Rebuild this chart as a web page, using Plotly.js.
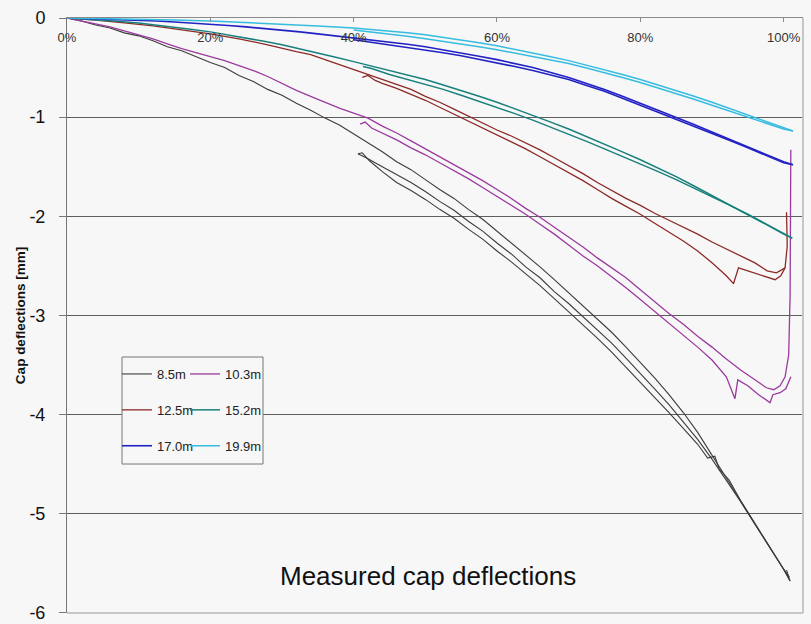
<!DOCTYPE html>
<html>
<head>
<meta charset="utf-8">
<script src="https://cdn.plot.ly/plotly-3.0.1.min.js"></script>
<style>html,body{margin:0;padding:0;background:#f7f7f7;}#chart{width:811px;height:624px;}</style>
</head>
<body>
<div id="chart"></div>
<script>
// ---- Data: x = load level [%], y = cap deflection [mm] ----
const seriesNames = ['8.5m', '10.3m', '12.5m', '15.2m', '17.0m', '19.9m'];
const xTickVals = [0, 20, 40, 60, 80, 100];
const xTickText = ['0%', '20%', '40%', '60%', '80%', '100%'];
const yTickVals = [0, -1, -2, -3, -4, -5, -6];
const yTickText = ['0', '-1', '-2', '-3', '-4', '-5', '-6'];

// 8.5m
const x85a = [0,2,4,6,8,10,12,14,16,18,20,22,24,26,28,30,32,34,36,38,40,42,44,46,48,50,52,54,56,58,60,62,64,66,68,70,72,74,76,78,80,82,84,86,88,90,92,94,96,98,100,100.9,100.4];
const y85a = [0,-0.03,-0.07,-0.10,-0.15,-0.18,-0.23,-0.29,-0.33,-0.39,-0.45,-0.50,-0.58,-0.64,-0.72,-0.78,-0.86,-0.93,-1.01,-1.08,-1.17,-1.26,-1.35,-1.45,-1.53,-1.63,-1.73,-1.82,-1.93,-2.03,-2.15,-2.27,-2.39,-2.51,-2.64,-2.77,-2.90,-3.04,-3.17,-3.32,-3.47,-3.63,-3.80,-3.98,-4.18,-4.41,-4.63,-4.86,-5.09,-5.33,-5.56,-5.68,-5.57];
const x85b = [40.6,42,44,46,48,50,52,54,56,58,60,62,64,66,68,70,72,74,76,78,80,82,84,86,88,90,92,94,96,98,100,100.8];
const y85b = [-1.37,-1.42,-1.50,-1.58,-1.66,-1.75,-1.85,-1.94,-2.05,-2.15,-2.27,-2.38,-2.51,-2.62,-2.76,-2.88,-3.01,-3.15,-3.28,-3.43,-3.58,-3.74,-3.90,-4.07,-4.25,-4.45,-4.66,-4.88,-5.11,-5.34,-5.56,-5.64];
const x85c = [40.6,41.2,42.2,44,46,48,50,52,54,56,58,60,62,64,66,68,70,72,74,76,78,80,82,84,86,88,89.4,90.4,91,92.4,94,96,98,100,100.9];
const y85c = [-1.37,-1.36,-1.44,-1.55,-1.66,-1.74,-1.83,-1.93,-2.02,-2.13,-2.23,-2.35,-2.46,-2.58,-2.70,-2.83,-2.96,-3.09,-3.23,-3.37,-3.52,-3.67,-3.82,-3.98,-4.14,-4.30,-4.44,-4.42,-4.55,-4.66,-4.87,-5.10,-5.33,-5.56,-5.68];

// 10.3m
const x103a = [0,2,4,6,8,10,12,14,16,18,20,22,24,26,28,30,32,34,36,38,40,42,44,46,48,50,52,54,56,58,60,62,64,66,68,70,72,74,76,78,80,82,84,86,88,90,92,94,96,97.6,98.6,99.5,100.2,100.7,100.9,101.0,101.0];
const y103a = [0,-0.03,-0.06,-0.09,-0.13,-0.17,-0.21,-0.26,-0.31,-0.35,-0.39,-0.43,-0.48,-0.53,-0.59,-0.66,-0.73,-0.79,-0.85,-0.91,-0.96,-1.01,-1.09,-1.16,-1.24,-1.32,-1.40,-1.48,-1.56,-1.64,-1.73,-1.82,-1.92,-2.01,-2.11,-2.21,-2.31,-2.42,-2.52,-2.62,-2.74,-2.86,-2.98,-3.09,-3.21,-3.32,-3.44,-3.55,-3.65,-3.73,-3.75,-3.71,-3.62,-3.40,-2.80,-2.00,-1.33];
const x103b = [40.9,41.6,42.5,44,46,48,50,52,54,56,58,60,62,64,66,68,70,72,74,76,78,80,82,84,86,88,90,92,93.2,93.6,95,96.5,98.1,98.5,99.5,100.3,101.0];
const y103b = [-1.07,-1.05,-1.11,-1.16,-1.23,-1.31,-1.38,-1.46,-1.54,-1.62,-1.71,-1.80,-1.89,-1.98,-2.08,-2.18,-2.29,-2.40,-2.50,-2.61,-2.72,-2.84,-2.96,-3.08,-3.20,-3.32,-3.45,-3.62,-3.84,-3.65,-3.71,-3.80,-3.88,-3.80,-3.78,-3.74,-3.62];

// 12.5m
const x125a = [0,4,8,12,16,20,24,28,32,34,36,38,40,42,44,46,48,50,52,54,56,58,60,62,64,66,68,70,72,74,76,78,80,82,84,86,88,90,92,94,96,97.7,99,100.2];
const y125a = [0,-0.02,-0.05,-0.08,-0.12,-0.16,-0.21,-0.27,-0.34,-0.37,-0.42,-0.47,-0.52,-0.57,-0.62,-0.67,-0.72,-0.79,-0.85,-0.92,-0.99,-1.06,-1.13,-1.19,-1.26,-1.33,-1.41,-1.49,-1.57,-1.66,-1.74,-1.82,-1.89,-1.97,-2.04,-2.11,-2.18,-2.26,-2.33,-2.40,-2.47,-2.55,-2.57,-2.52];
const x125b = [41.2,42,43,44,46,48,50,52,54,56,58,60,62,64,66,68,70,72,74,76,78,80,82,84,86,88,90,92,93,93.7,95,97,98.8,99.6,100.2,100.5,100.4];
const y125b = [-0.60,-0.58,-0.63,-0.66,-0.71,-0.77,-0.83,-0.90,-0.97,-1.04,-1.11,-1.18,-1.25,-1.32,-1.40,-1.48,-1.56,-1.64,-1.73,-1.82,-1.90,-1.98,-2.07,-2.16,-2.25,-2.35,-2.47,-2.60,-2.68,-2.52,-2.55,-2.60,-2.64,-2.60,-2.52,-2.30,-1.96];

// 15.2m
const x152a = [0,2.5,5,7.5,10,12.5,15,17.5,20,22.5,25,27.5,30,32.5,35,37.5,40,42.5,45,47.5,50,52.5,55,57.5,60,62.5,65,67.5,70,72.5,75,77.5,80,82.5,85,87.5,90,92.5,95,97.5,100,101.2];
const y152a = [0,-0.01,-0.02,-0.035,-0.05,-0.07,-0.09,-0.115,-0.14,-0.17,-0.20,-0.235,-0.27,-0.31,-0.35,-0.395,-0.44,-0.485,-0.53,-0.575,-0.62,-0.675,-0.73,-0.79,-0.85,-0.915,-0.98,-1.05,-1.12,-1.195,-1.27,-1.35,-1.43,-1.515,-1.60,-1.695,-1.79,-1.885,-1.98,-2.08,-2.18,-2.22];
const x152b = [41.3,42.5,45,47.5,50,52.5,55,57.5,60,62.5,65,67.5,70,72.5,75,77.5,80,82.5,85,87.5,90,92.5,95,97.5,100,101.2];
const y152b = [-0.49,-0.51,-0.57,-0.62,-0.67,-0.72,-0.78,-0.84,-0.90,-0.965,-1.03,-1.10,-1.17,-1.245,-1.32,-1.395,-1.47,-1.55,-1.63,-1.715,-1.80,-1.89,-1.98,-2.075,-2.17,-2.22];

// 17.0m
const x170a = [0,2.5,5,7.5,10,12.5,15,17.5,20,22.5,25,27.5,30,32.5,35,37.5,40,42.5,45,47.5,50,52.5,55,57.5,60,62.5,65,67.5,70,72.5,75,77.5,80,82.5,85,87.5,90,92.5,95,97.5,100,101.3];
const y170a = [0,-0.005,-0.01,-0.015,-0.02,-0.03,-0.04,-0.05,-0.06,-0.075,-0.09,-0.105,-0.12,-0.14,-0.16,-0.18,-0.20,-0.22,-0.24,-0.265,-0.29,-0.32,-0.35,-0.385,-0.42,-0.46,-0.50,-0.55,-0.60,-0.66,-0.72,-0.79,-0.86,-0.93,-1.00,-1.075,-1.15,-1.225,-1.30,-1.375,-1.45,-1.48];
const x170b = [40,42.5,45,47.5,50,52.5,55,57.5,60,62.5,65,67.5,70,72.5,75,77.5,80,82.5,85,87.5,90,92.5,95,97.5,100,101.3];
const y170b = [-0.22,-0.245,-0.27,-0.295,-0.32,-0.35,-0.38,-0.415,-0.45,-0.49,-0.53,-0.575,-0.62,-0.68,-0.74,-0.81,-0.88,-0.95,-1.02,-1.09,-1.16,-1.235,-1.31,-1.385,-1.46,-1.48];

// 19.9m
const x199a = [0,5,10,15,20,25,30,35,40,42.5,45,47.5,50,52.5,55,57.5,60,62.5,65,67.5,70,72.5,75,77.5,80,82.5,85,87.5,90,92.5,95,97.5,100,101.3];
const y199a = [0,-0.005,-0.01,-0.02,-0.03,-0.045,-0.06,-0.08,-0.10,-0.115,-0.13,-0.15,-0.17,-0.195,-0.22,-0.25,-0.28,-0.315,-0.35,-0.39,-0.43,-0.475,-0.52,-0.57,-0.62,-0.675,-0.73,-0.79,-0.85,-0.915,-0.98,-1.045,-1.11,-1.14];
const x199b = [40,42.5,45,47.5,50,52.5,55,57.5,60,62.5,65,67.5,70,72.5,75,77.5,80,82.5,85,87.5,90,92.5,95,97.5,100,101.3];
const y199b = [-0.12,-0.14,-0.16,-0.185,-0.21,-0.235,-0.26,-0.29,-0.32,-0.355,-0.39,-0.425,-0.46,-0.505,-0.55,-0.60,-0.65,-0.705,-0.76,-0.82,-0.88,-0.94,-1.00,-1.06,-1.12,-1.14];

const seriesColors = ['#3c3c3c', '#9a3a9e', '#8c2a26', '#17807c', '#2222c4', '#36bce0'];
const seriesWidths = [1.1, 1.3, 1.3, 1.5, 1.6, 1.5];

// ---- build ----
function joinSegs(segs) {
  let out = [];
  segs.forEach((s, i) => { if (i > 0) out.push(null); out = out.concat(s); });
  return out;
}
const segX = [[x85a, x85c, x85b], [x103a, x103b], [x125a, x125b], [x152a, x152b], [x170a, x170b], [x199a, x199b]];
const segY = [[y85a, y85c, y85b], [y103a, y103b], [y125a, y125b], [y152a, y152b], [y170a, y170b], [y199a, y199b]];
const legendOf = ['legend', 'legend2', 'legend', 'legend2', 'legend', 'legend2'];

const traces = seriesNames.map((name, i) => ({
  type: 'scatter', mode: 'lines', name: name,
  x: joinSegs(segX[i]), y: joinSegs(segY[i]),
  connectgaps: false,
  line: {color: seriesColors[i], width: seriesWidths[i]},
  legend: legendOf[i], legendgroup: 'g' + i,
  hoverinfo: 'skip'
}));

const FONT = 'Liberation Sans, Arial, Helvetica, sans-serif';
const W = 811, H = 624, ML = 67, MR = 8, MT = 18, MB = 11;
const PW = W - ML - MR, PH = H - MT - MB;
const px = v => (v - ML) / PW;
const py = v => (H - MB - v) / PH;

const legendCommon = {
  bgcolor: 'rgba(0,0,0,0)', borderwidth: 0,
  font: {family: FONT, size: 13, color: '#222'},
  tracegroupgap: 16, xanchor: 'left', yanchor: 'top', itemclick: false
};

const layout = {
  width: W, height: H,
  margin: {l: ML, r: MR, t: MT, b: MB},
  paper_bgcolor: '#f7f7f7', plot_bgcolor: '#f7f7f7',
  font: {family: FONT, color: '#222'},
  showlegend: true,
  legend: Object.assign({x: px(117), y: py(359)}, legendCommon),
  legend2: Object.assign({x: px(185), y: py(359)}, legendCommon),
  xaxis: {
    side: 'top', range: [0, 102.7], tickvals: xTickVals, ticktext: xTickText,
    showline: true, linecolor: '#8a8a8a', linewidth: 1,
    ticks: 'inside', ticklen: 4, tickcolor: '#8a8a8a',
    ticklabelposition: 'inside', ticklabeloverflow: 'allow', ticklabelstandoff: 11,
    tickfont: {family: FONT, size: 13, color: '#333'},
    showgrid: false, zeroline: false, fixedrange: true
  },
  yaxis: {
    range: [-6.002, 0], tickvals: yTickVals, ticktext: yTickText,
    showline: true, linecolor: '#777', linewidth: 1,
    ticks: 'outside', ticklen: 7, tickcolor: '#777', ticklabelstandoff: 10,
    ticklabeloverflow: 'allow',
    tickfont: {family: FONT, size: 18, color: '#111'},
    showgrid: true, gridcolor: '#5e5e5e', gridwidth: 1, zeroline: false,
    title: {text: '<b>Cap deflections [mm]</b>', font: {family: FONT, size: 13.5, color: '#111'}, standoff: 0},
    fixedrange: true
  },
  shapes: [
    {type: 'line', xref: 'paper', yref: 'paper', x0: 0, x1: 1, y0: 0, y1: 0, line: {color: '#c6c6c6', width: 2}, layer: 'above'},
    {type: 'line', xref: 'paper', yref: 'paper', x0: 1, x1: 1, y0: 0, y1: 1, line: {color: '#c6c6c6', width: 2}, layer: 'above'},
    {type: 'rect', xref: 'paper', yref: 'paper', x0: px(122), x1: px(263), y0: py(464), y1: py(357),
     line: {color: '#777', width: 1}, fillcolor: '#f7f7f7', layer: 'above'}
  ],
  annotations: [
    {text: 'Measured cap deflections', xref: 'paper', yref: 'paper', x: px(428), y: py(576),
     xanchor: 'center', yanchor: 'middle', showarrow: false,
     font: {family: FONT, size: 26, color: '#111'}}
  ]
};

Plotly.newPlot('chart', traces, layout, {displayModeBar: false, staticPlot: true});
</script>
</body>
</html>
